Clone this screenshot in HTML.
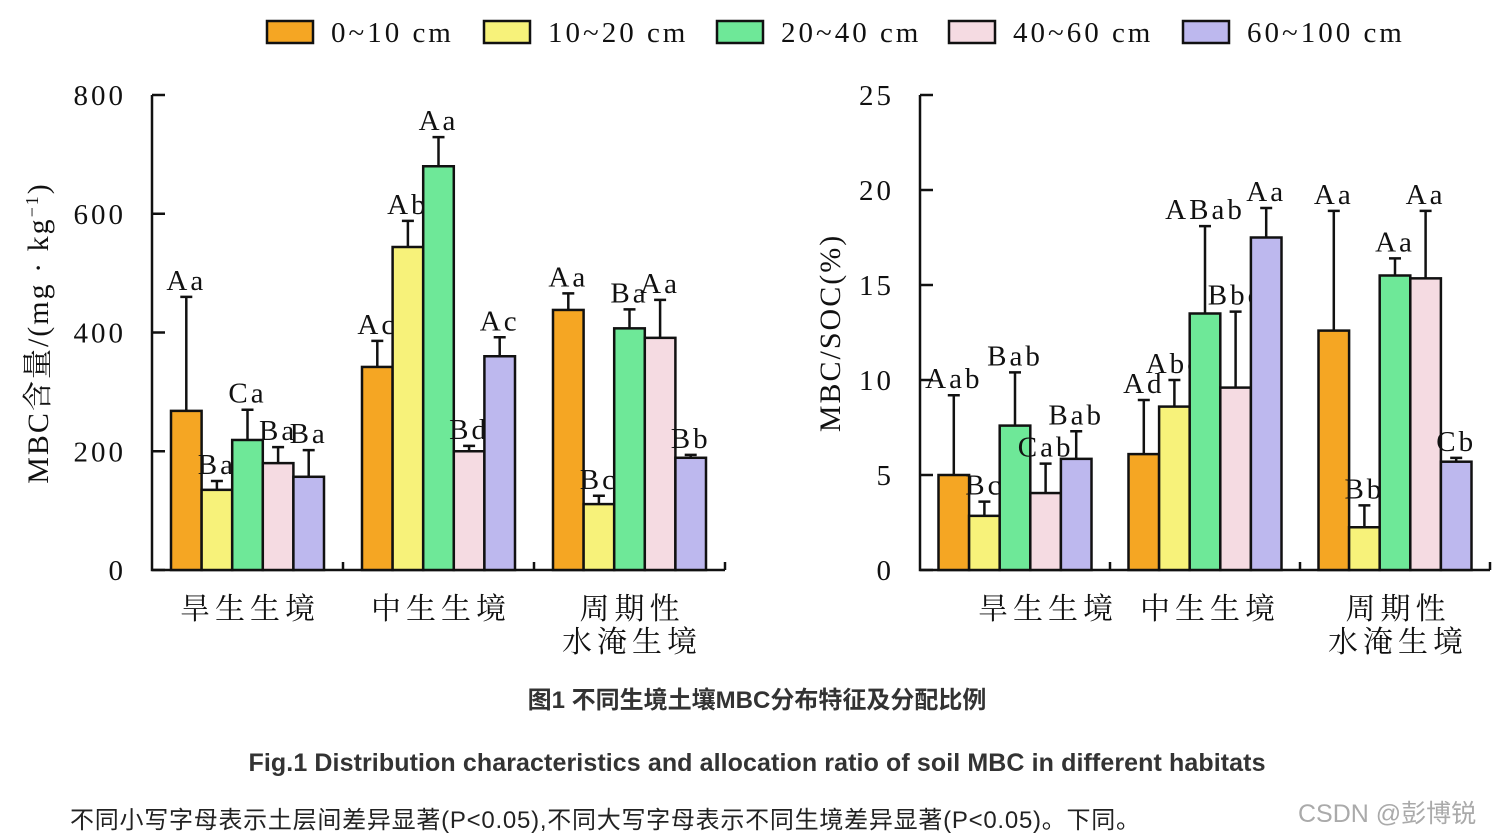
<!DOCTYPE html>
<html><head><meta charset="utf-8"><style>
html,body{margin:0;padding:0;background:#fff;width:1500px;height:840px;overflow:hidden}
svg{display:block}
.serif{font-family:"Liberation Serif","Noto Serif CJK SC",serif}
.sans{font-family:"Liberation Sans","Noto Sans CJK SC",sans-serif}
</style></head><body>
<svg id="chart" width="1500" height="840" viewBox="0 0 1500 840" xmlns="http://www.w3.org/2000/svg">
<g id="legend"></g>
<g id="left"></g>
<g id="right"></g>
<text class="sans" x="757" y="708" text-anchor="middle" font-size="24" font-weight="bold" fill="#333">图1 不同生境土壤MBC分布特征及分配比例</text>
<text class="sans" x="757" y="771" text-anchor="middle" font-size="25" font-weight="bold" fill="#333" textLength="1017">Fig.1 Distribution characteristics and allocation ratio of soil MBC in different habitats</text>
<text class="sans" x="70" y="828" font-size="24" fill="#222" textLength="1070">不同小写字母表示土层间差异显著(P&lt;0.05),不同大写字母表示不同生境差异显著(P&lt;0.05)。下同。</text>
<text class="sans" x="1298" y="822" font-size="25" fill="#aaa">CSDN @彭博锐</text>
</svg>
<script>
const series = ["0~10 cm","10~20 cm","20~40 cm","40~60 cm","60~100 cm"];
const colors = ["#f5a623","#f7f27a","#6ee898","#f5dbe2","#bdb8ee"];
const categories = ["旱生生境","中生生境","周期性水淹生境"];
const leftValues = [[268,135,219,180,157],[342,544,680,200,360],[438,111,407,391,189]];
const leftErrTop = [[460,150,270,207,202],[386,588,729,209,392],[466,125,439,455,194]];
const leftLetters = [["Aa","Ba","Ca","Ba","Ba"],["Ac","Ab","Aa","Bd","Ac"],["Aa","Bc","Ba","Aa","Bb"]];
const leftTicks = [0,200,400,600,800];
const rightValues = [[5.0,2.85,7.6,4.05,5.85],[6.1,8.6,13.5,9.6,17.5],[12.6,2.25,15.5,15.35,5.7]];
const rightErrTop = [[9.2,3.6,10.4,5.6,7.3],[8.95,10.0,18.1,13.6,19.05],[18.9,3.4,16.4,18.9,5.9]];
const rightLetters = [["Aab","Bc","Bab","Cab","Bab"],["Ad","Abc","ABab","Bbc","Aa"],["Aa","Bb","Aa","Aa","Cb"]];
const rightTicks = [0,5,10,15,20,25];

const NS="http://www.w3.org/2000/svg";
function mk(parent,tag,attrs,txt){const e=document.createElementNS(NS,tag);for(const k in attrs)e.setAttribute(k,attrs[k]);if(txt!==undefined)e.textContent=txt;parent.appendChild(e);return e;}

const lg=document.getElementById('legend');
const legX=[267,484,717,949,1183];
series.forEach((s,i)=>{
  const r=mk(lg,'rect',{x:legX[i],y:21,width:46,height:22,fill:colors[i],stroke:'#111','stroke-width':2.5});
  
  
  const t=mk(lg,'text',{x:legX[i]+64,y:42,'font-size':29,fill:'#111','class':'serif','letter-spacing':'3'},s);
  
  
});

function drawChart(g,o){
  const y=v=>o.y0-(v/o.max)*(o.y0-o.yTop);
  const groupW=(o.x1-o.x0)/3;
  const bw=30.6;
  const ax=mk(g,'path',{d:`M${o.x0},${o.yTop} L${o.x0},${o.y0} L${o.x1},${o.y0}`,fill:'none',stroke:'#111','stroke-width':2.5});
  
  
  o.ticks.forEach(t=>{
    mk(g,'line',{x1:o.x0,x2:o.x0+13,y1:y(t),y2:y(t),stroke:'#111','stroke-width':2.5});
    const tl=mk(g,'text',{x:o.x0-26,y:y(t)+10,'text-anchor':'end','font-size':29,fill:'#111','class':'serif','letter-spacing':'3'},String(t));
    
    
  });
  for(let k=1;k<=3;k++){mk(g,'line',{x1:o.x0+groupW*k,x2:o.x0+groupW*k,y1:o.y0,y2:o.y0-8,stroke:'#111','stroke-width':2.5});}
  o.values.forEach((gv,gi)=>{
    const gx=o.x0+gi*groupW+(groupW-5*bw)/2;
    gv.forEach((v,si)=>{
      const bx=gx+si*bw, cx=bx+bw/2;
      const b=mk(g,'rect',{x:bx,y:y(v),width:bw,height:o.y0-y(v),fill:colors[si],stroke:'#111','stroke-width':2.5});
      
      
      const et=y(o.err[gi][si]);
      mk(g,'path',{d:`M${cx},${y(v)} L${cx},${et} M${cx-6},${et} L${cx+6},${et}`,stroke:'#111','stroke-width':2.5,fill:'none'});
      const lt=mk(g,'text',{x:cx,y:et-7,'text-anchor':'middle','font-size':29,fill:'#111','class':'serif','letter-spacing':'3'},o.letters[gi][si]);
      
      
    });
  });
  o.catPos.forEach((p,i)=>{
    p.lines.forEach((ln,j)=>{
      const c=mk(g,'text',{x:p.x,y:619+j*33,'text-anchor':'middle','font-size':30,fill:'#111','class':'serif','letter-spacing':'5'},ln);
      
      
    });
  });
  const yt=mk(g,'text',{transform:`translate(${o.titleX},${o.titleY}) rotate(-90)`,'text-anchor':'middle','font-size':30,fill:'#111','class':'serif','letter-spacing':'2'},'');
  
  
  yt.innerHTML=o.title;
}
drawChart(document.getElementById('left'),{x0:152,x1:725,y0:570,yTop:95,max:800,ticks:leftTicks,values:leftValues,err:leftErrTop,letters:leftLetters,
  catPos:[{x:250,lines:["旱生生境"]},{x:441,lines:["中生生境"]},{x:632,lines:["周期性","水淹生境"]}],
  titleX:48,titleY:333,title:'MBC含量/(mg · kg<tspan dy="-10" font-size="18">−1</tspan><tspan dy="10">)</tspan>'});
drawChart(document.getElementById('right'),{x0:920,x1:1490,y0:570,yTop:95,max:25,ticks:rightTicks,values:rightValues,err:rightErrTop,letters:rightLetters,
  catPos:[{x:1048,lines:["旱生生境"]},{x:1210,lines:["中生生境"]},{x:1398,lines:["周期性","水淹生境"]}],
  titleX:840,titleY:333,title:'MBC/SOC(%)'});
</script>
</body></html>
